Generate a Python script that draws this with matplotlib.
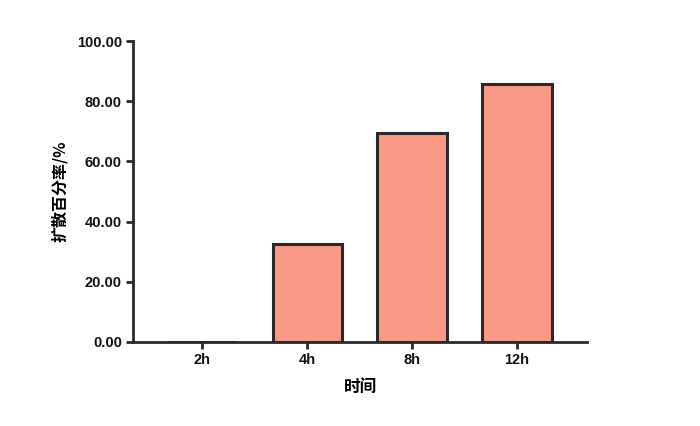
import matplotlib
matplotlib.use("Agg")
import matplotlib.pyplot as plt

categories = ["2h", "4h", "8h", "12h"]
values = [0.0, 32.5, 69.5, 85.7]

plt.rcParams["font.family"] = ["Liberation Sans", "Noto Sans CJK SC", "DejaVu Sans"]
plt.rcParams["font.weight"] = "bold"

fig = plt.figure(figsize=(7.0, 4.26), dpi=100)
ax = fig.add_axes([0.19, 0.198, 0.649, 0.705])

x = list(range(len(categories)))
ax.bar(x, values, width=0.66, color="#FA9A86", edgecolor="#2a2a2a",
       linewidth=2.2, zorder=3)

ax.set_xlim(-0.66, 3.67)
ax.set_ylim(0, 100)
ax.set_yticks([0, 20, 40, 60, 80, 100])
ax.set_yticklabels([f"{v:.2f}" for v in [0, 20, 40, 60, 80, 100]])
ax.set_xticks(x)
ax.set_xticklabels(categories)

for s in ["top", "right"]:
    ax.spines[s].set_visible(False)
for s in ["left", "bottom"]:
    ax.spines[s].set_linewidth(2.0)
    ax.spines[s].set_color("#2a2a2a")

ax.tick_params(axis="both", width=2.0, length=5, color="#2a2a2a",
               labelsize=10.5, labelcolor="#111111", pad=3)

cjk = ["Noto Sans CJK SC", "DejaVu Sans"]
ax.set_ylabel("扩散百分率/%", family=cjk, fontweight="bold", fontsize=11.5,
              labelpad=6)
ax.set_xlabel("时间", family=cjk, fontweight="bold", fontsize=12,
              labelpad=8)

fig.savefig("out.png", dpi=100)
